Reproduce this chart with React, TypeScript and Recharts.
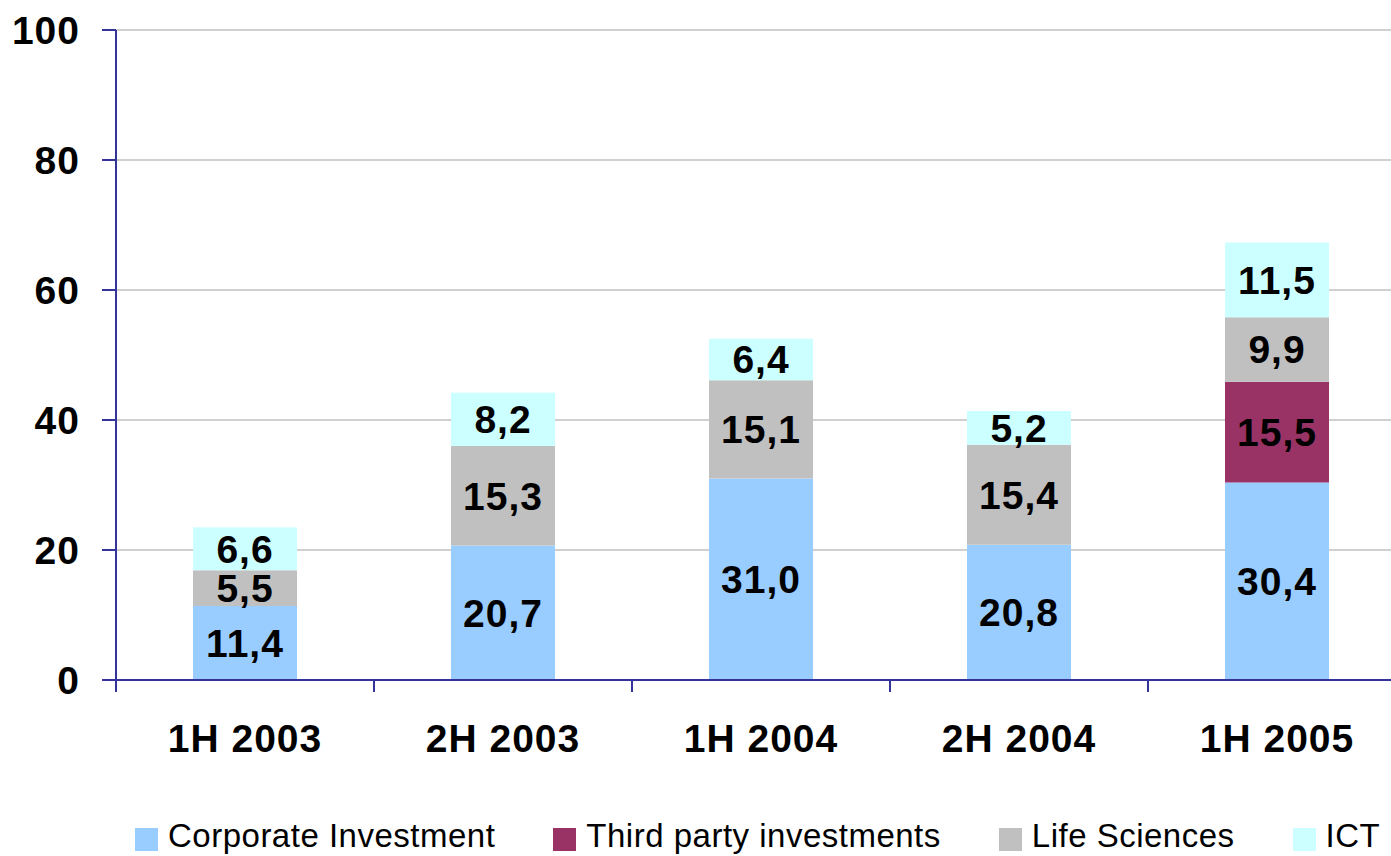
import { BarChart, Bar, XAxis, YAxis, CartesianGrid, LabelList } from 'recharts';

const PERIODS = ['1H 2003', '2H 2003', '1H 2004', '2H 2004', '1H 2005'];
const CORPORATE = [11.4, 20.7, 31.0, 20.8, 30.4];
const THIRD_PARTY = [null, null, null, null, 15.5];
const LIFE_SCIENCES = [5.5, 15.3, 15.1, 15.4, 9.9];
const ICT = [6.6, 8.2, 6.4, 5.2, 11.5];
const Y_TICKS = [0, 20, 40, 60, 80, 100];

const SERIES = [
  { key: 'corporate', name: 'Corporate Investment', color: '#99ccff' },
  { key: 'thirdParty', name: 'Third party investments', color: '#993366' },
  { key: 'lifeSciences', name: 'Life Sciences', color: '#c0c0c0' },
  { key: 'ict', name: 'ICT', color: '#ccffff' },
];

const W = 1391;
const H = 856;
// plot area runs a little past the right edge, as in the original slide
const MARGIN = { top: 30, right: -15, bottom: 0, left: 0 };
const Y_AXIS_W = 116;
const AXIS_COLOR = '#333399';
const FONT = 'Arial, "Liberation Sans", sans-serif';

const data = PERIODS.map((period, i) => ({
  period,
  corporate: CORPORATE[i],
  thirdParty: THIRD_PARTY[i],
  lifeSciences: LIFE_SCIENCES[i],
  ict: ICT[i],
}));

const band = (W - MARGIN.right - Y_AXIS_W) / PERIODS.length;

function formatValue(v: any) {
  if (v === null || v === undefined || v === 0) return '';
  return Number(v).toFixed(1).replace('.', ',');
}

function PeriodTick(props: any) {
  const { x, y, payload, index } = props;
  const isLast = index === PERIODS.length - 1;
  return (
    <g>
      <line x1={x - band / 2} x2={x - band / 2} y1={y} y2={y + 12} stroke={AXIS_COLOR} strokeWidth={2} />
      {isLast && (
        <line x1={x + band / 2} x2={x + band / 2} y1={y} y2={y + 12} stroke={AXIS_COLOR} strokeWidth={2} />
      )}
      <text
        x={x}
        y={y + 72}
        textAnchor="middle"
        fontSize={39}
        fontWeight="bold"
        letterSpacing={1}
        fill="#000"
        fontFamily={FONT}
      >
        {payload.value}
      </text>
    </g>
  );
}

export default function App() {
  return (
    <div style={{ position: 'absolute', left: 0, top: 0, width: W, height: H, background: '#fff', fontFamily: FONT, overflow: 'hidden' }}>
      <BarChart width={W} height={H} data={data} margin={MARGIN}>
        <CartesianGrid vertical={false} stroke="#c0c0c0" strokeWidth={1.5} />
        <XAxis
          dataKey="period"
          height={176}
          axisLine={{ stroke: AXIS_COLOR, strokeWidth: 2 }}
          tickLine={false}
          tickSize={0}
          tickMargin={0}
          interval={0}
          tick={<PeriodTick />}
        />
        <YAxis
          width={Y_AXIS_W}
          domain={[0, 100]}
          ticks={Y_TICKS}
          axisLine={{ stroke: AXIS_COLOR, strokeWidth: 2 }}
          tickLine={{ stroke: AXIS_COLOR, strokeWidth: 2 }}
          tickSize={14}
          tickMargin={22}
          tick={{ fill: '#000', fontSize: 39, fontWeight: 'bold', fontFamily: FONT, letterSpacing: 1 }}
        />
        {SERIES.map((s) => (
          <Bar key={s.key} dataKey={s.key} name={s.name} stackId="a" fill={s.color} barSize={104} isAnimationActive={false}>
            <LabelList
              dataKey={s.key}
              position="center"
              formatter={formatValue}
              fill="#000"
              fontSize={39}
              fontWeight="bold"
              fontFamily={FONT}
              letterSpacing={1}
            />
          </Bar>
        ))}
      </BarChart>
      <div
        style={{
          position: 'absolute',
          left: 135,
          top: 816,
          display: 'flex',
          alignItems: 'flex-end',
          gap: 58,
          fontSize: 33,
          letterSpacing: 0.5,
          lineHeight: '40px',
          color: '#000',
          whiteSpace: 'nowrap',
        }}
      >
        {SERIES.map((s) => (
          <div key={s.key} style={{ display: 'flex', alignItems: 'center' }}>
            <span style={{ display: 'inline-block', width: 23, height: 23, background: s.color, marginRight: 10, marginTop: 6 }} />
            <span>{s.name}</span>
          </div>
        ))}
      </div>
    </div>
  );
}
